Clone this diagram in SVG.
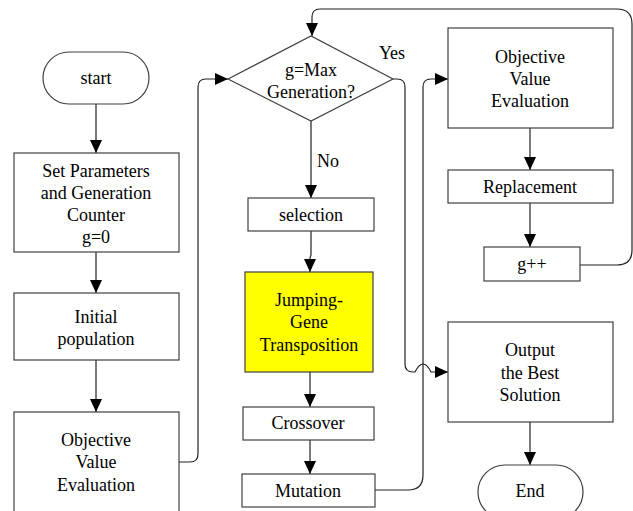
<svg xmlns="http://www.w3.org/2000/svg" width="633" height="511" viewBox="0 0 633 511">
<style>
.b{fill:#fff;stroke:#404040;stroke-width:1.2}
.y{fill:#ffff00;stroke:#404040;stroke-width:1.2}
.c{fill:none;stroke:#222;stroke-width:1.2}
text{font-family:"Liberation Serif",serif;font-size:18px;fill:#000;text-anchor:middle}
</style>
<defs>
<marker id="ah" markerUnits="userSpaceOnUse" markerWidth="14" markerHeight="14" refX="13" refY="6" orient="auto">
<path d="M0,0 L13,6 L0,12 Z" fill="#000"/>
</marker>
</defs>
<rect width="633" height="511" fill="#fff"/>
<g id="connectors">
<path class="c" d="M96,104 V153" marker-end="url(#ah)"/>
<path class="c" d="M96,252 V293" marker-end="url(#ah)"/>
<path class="c" d="M96,360 V412" marker-end="url(#ah)"/>
<path class="c" d="M179,462 H190 Q198,462 198,454 V87 Q198,79 206,79 H228" marker-end="url(#ah)"/>
<path class="c" d="M311,121 V198" marker-end="url(#ah)"/>
<path class="c" d="M311,231 V255 L310,258 V272" marker-end="url(#ah)"/>
<path class="c" d="M310,372 V407" marker-end="url(#ah)"/>
<path class="c" d="M310,440 V474" marker-end="url(#ah)"/>
<path class="c" d="M375,490 H408 Q423,490 423,475 V87 Q423,79 431,79 H448" marker-end="url(#ah)"/>
<path class="c" d="M393,79 H397 Q405,79 405,87 V364 Q405,372 413,372 H415 Q419,364 423,364 Q427,364 431,372 H448" marker-end="url(#ah)"/>
<path class="c" d="M580,265 H617 Q632,265 632,250 V24 Q632,9 617,9 H320 Q312,9 312,17 V36" marker-end="url(#ah)"/>
<path class="c" d="M530,128 V170" marker-end="url(#ah)"/>
<path class="c" d="M530,203 V247" marker-end="url(#ah)"/>
<path class="c" d="M530,422 V465" marker-end="url(#ah)"/>
<text x="392" y="59">Yes</text>
<text x="328" y="167">No</text>
</g>
<g id="start"><rect class="b" x="43" y="52" width="106" height="52" rx="26"/><text x="96" y="84">start</text></g>
<g id="setparams"><rect class="b" x="14" y="153" width="165" height="99"/>
<text x="96" y="177">Set Parameters</text><text x="96" y="199">and Generation</text><text x="96" y="221">Counter</text><text x="96" y="243">g=0</text></g>
<g id="initpop"><rect class="b" x="14" y="293" width="165" height="67"/>
<text x="96" y="323">Initial</text><text x="96" y="345">population</text></g>
<g id="objeval1"><rect class="b" x="14" y="412" width="165" height="110"/>
<text x="96" y="446">Objective</text><text x="96" y="468">Value</text><text x="96" y="491">Evaluation</text></g>
<g id="decision"><polygon class="b" points="228,79 311,36 393,79 311,121"/>
<text x="311" y="76">g=Max</text><text x="311" y="98">Generation?</text></g>
<g id="selection"><rect class="b" x="248" y="198" width="126" height="33"/><text x="311" y="221">selection</text></g>
<g id="jumpinggene"><rect class="y" x="245" y="272" width="128" height="100"/>
<text x="309" y="306">Jumping-</text><text x="309" y="328">Gene</text><text x="309" y="351">Transposition</text></g>
<g id="crossover"><rect class="b" x="243" y="407" width="131" height="33"/><text x="308" y="429">Crossover</text></g>
<g id="mutation"><rect class="b" x="242" y="474" width="133" height="33"/><text x="308" y="497">Mutation</text></g>
<g id="objeval2"><rect class="b" x="448" y="28" width="165" height="100"/>
<text x="530" y="63">Objective</text><text x="530" y="85">Value</text><text x="530" y="107">Evaluation</text></g>
<g id="replacement"><rect class="b" x="448" y="170" width="165" height="33"/><text x="530" y="193">Replacement</text></g>
<g id="gpp"><rect class="b" x="484" y="247" width="96" height="34"/><text x="532" y="270">g++</text></g>
<g id="output"><rect class="b" x="448" y="322" width="165" height="100"/>
<text x="530" y="356">Output</text><text x="530" y="379">the Best</text><text x="530" y="401">Solution</text></g>
<g id="end"><rect class="b" x="478" y="465" width="105" height="54" rx="27"/><text x="530" y="497">End</text></g>
</svg>
